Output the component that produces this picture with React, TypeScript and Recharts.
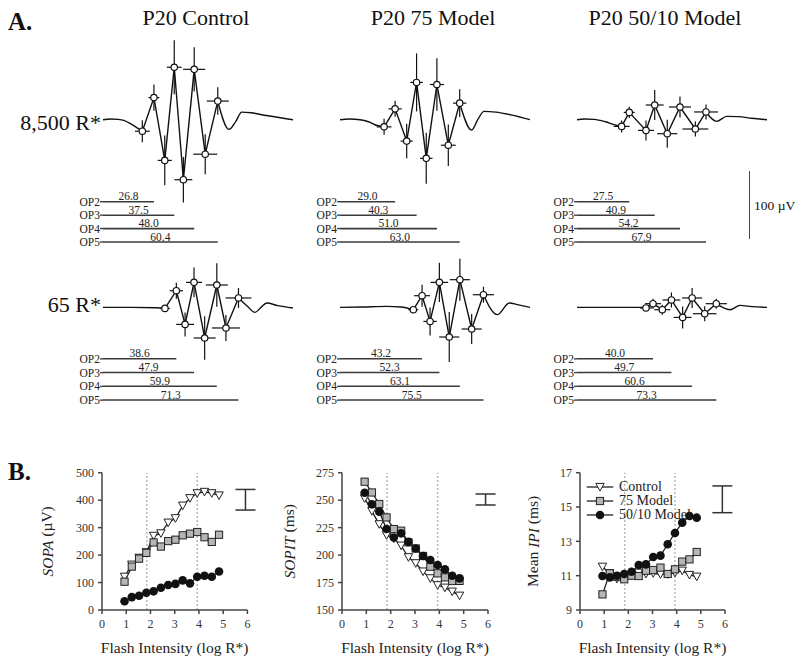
import React from "react";
import {
    ComposedChart,
    BarChart,
    Bar,
    Line,
    Scatter,
    XAxis,
    YAxis,
    ErrorBar,
    LabelList,
    ReferenceLine,
    Legend,
} from "recharts";

const FONT = "Liberation Serif, Times New Roman, serif";

// ---------- panel A: oscillatory potentials (time in ms, amplitude in µV) ----------
const ctl8500Pre = [[0, 0], [4, 1], [8, 0.5], [11, -1], [14, -5], [17, -10], [20.7, -16.7]];
const ctl8500Ops = [
    { t: 20.7, v: -16.7, te: 3.9, ve: 16 },
    { t: 26.8, v: 32, te: 2.9, ve: 19 },
    { t: 32.5, v: -59, te: 3.7, ve: 36 },
    { t: 37.5, v: 76, te: 3.9, ve: 39 },
    { t: 42.3, v: -87, te: 4.7, ve: 33 },
    { t: 48.0, v: 73, te: 5.8, ve: 32 },
    { t: 53.8, v: -50, te: 6.3, ve: 29 },
    { t: 60.4, v: 27, te: 5.8, ve: 20 },
];
const ctl8500Post = [[60.4, 27], [66.3, -14], [70, -2], [73, 11], [78, 10], [86, 6], [100, 0]];

const m75x8500Pre = [[0, 0], [5, 1], [10.5, 0], [15, -3], [19, -8], [23.2, -10.4]];
const m75x8500Ops = [
    { t: 23.2, v: -10.4, te: 3.9, ve: 11.6 },
    { t: 29.0, v: 15.7, te: 3.5, ve: 11.6 },
    { t: 35.1, v: -31, te: 3.2, ve: 25 },
    { t: 40.3, v: 54, te: 3.3, ve: 42 },
    { t: 45.4, v: -56, te: 3.3, ve: 37 },
    { t: 51.0, v: 51, te: 3.7, ve: 38 },
    { t: 57.0, v: -37, te: 3.9, ve: 30 },
    { t: 63.0, v: 24, te: 3.5, ve: 20 },
];
const m75x8500Post = [[63, 24], [69.3, -15], [72.5, 0], [75.8, 12], [82, 11], [90, 7], [100, 0]];

const m5010x8500Pre = [[0, 0], [4, 1], [9, 0.5], [15, -3], [20, -7.5], [23.5, -9.7]];
const m5010x8500Ops = [
    { t: 23.5, v: -9.7, te: 4.2, ve: 8.7 },
    { t: 27.5, v: 10.6, te: 2.9, ve: 8.3 },
    { t: 36.3, v: -15.5, te: 4.2, ve: 14.5 },
    { t: 40.9, v: 21.3, te: 4.7, ve: 21.7 },
    { t: 47.5, v: -20.3, te: 5.3, ve: 20.3 },
    { t: 54.2, v: 18.4, te: 5.8, ve: 15.2 },
    { t: 62.3, v: -13.5, te: 6.8, ve: 10.9 },
    { t: 67.9, v: 11.2, te: 6.3, ve: 10.9 },
];
const m5010x8500Post = [[67.9, 11.2], [73.5, -2.5], [78.8, 4.8], [85, 4.5], [92, 2], [100, 0]];

const ctl65Pre = [[0, 0.5], [15, 0.5], [28, 0], [32.6, -1]];
const ctl65Ops = [
    { t: 32.6, v: -1, te: 2.6, ve: 4.3 },
    { t: 38.6, v: 24.6, te: 3.5, ve: 11.6 },
    { t: 43.2, v: -24.2, te: 4.7, ve: 17.4 },
    { t: 47.9, v: 36.7, te: 4.2, ve: 21.7 },
    { t: 53.5, v: -43.9, te: 5.8, ve: 31.4 },
    { t: 59.9, v: 32.9, te: 5.8, ve: 31.4 },
    { t: 64.7, v: -29.4, te: 7.4, ve: 18.8 },
    { t: 71.3, v: 14.1, te: 6.8, ve: 14.5 },
];
const ctl65Post = [[71.3, 14.1], [76, 2], [80, -6.8], [83, 0], [86.2, 6.8], [92, 3], [100, -0.4]];

const m75x65Pre = [[0, 0.4], [12, 1], [24.6, 1.9], [32, 1], [38.6, -2.9]];
const m75x65Ops = [
    { t: 38.6, v: -2.9, te: 2.6, ve: 2.9 },
    { t: 43.2, v: 17.4, te: 4.2, ve: 15.9 },
    { t: 47.4, v: -19.9, te: 3.5, ve: 20.3 },
    { t: 52.3, v: 36.7, te: 4.6, ve: 28.3 },
    { t: 57.5, v: -42.5, te: 5.3, ve: 36.2 },
    { t: 63.1, v: 40.6, te: 5.3, ve: 30.4 },
    { t: 69.3, v: -30.9, te: 5.3, ve: 21.7 },
    { t: 75.5, v: 18.8, te: 5.6, ve: 11.6 },
];
const m75x65Post = [[75.5, 18.8], [82.8, -10.1], [89.1, 6.8], [94, 4], [100, 0.4]];

const m5010x65Pre = [[0, 0.4], [20, 0.4], [34.7, 0.4], [36.3, -0.4]];
const m5010x65Ops = [
    { t: 36.3, v: -0.4, te: 3.2, ve: 2.9 },
    { t: 40.0, v: 5.8, te: 4.2, ve: 7.2 },
    { t: 44.9, v: -2.9, te: 4.2, ve: 7.2 },
    { t: 49.7, v: 11.2, te: 4.7, ve: 10.9 },
    { t: 55.6, v: -14.1, te: 4.7, ve: 15.9 },
    { t: 60.6, v: 14.1, te: 5.3, ve: 14.5 },
    { t: 67.2, v: -8.7, te: 6.2, ve: 10.9 },
    { t: 73.3, v: 5.8, te: 5.6, ve: 7.2 },
];
const m5010x65Post = [[73.3, 5.8], [80.5, -2.9], [85.8, 3.3], [92, 1.5], [100, 0.4]];

// OP2..OP5 implicit times (ms)
const opNames = ["OP2", "OP3", "OP4", "OP5"];
const lat_ctl8500 = [26.8, 37.5, 48.0, 60.4];
const lat_m75x8500 = [29.0, 40.3, 51.0, 63.0];
const lat_m5010x8500 = [27.5, 40.9, 54.2, 67.9];
const lat_ctl65 = [38.6, 47.9, 59.9, 71.3];
const lat_m75x65 = [43.2, 52.3, 63.1, 75.5];
const lat_m5010x65 = [40.0, 49.7, 60.6, 73.3];

const colTitles = ["P20 Control", "P20 75 Model", "P20 50/10 Model"];
const rowLabels = ["8,500 R*", "65 R*"];

// ---------- panel B: intensity series ----------
const intensity = [0.93, 1.23, 1.53, 1.83, 2.13, 2.43, 2.73, 3.03, 3.33, 3.63, 3.93, 4.23, 4.53, 4.83];
const sopaControl = [121, 165, 190, 210, 270, 279, 318, 334, 380, 407, 425, 430, 425, 417];
const sopa75 = [103, 158, 187, 208, 246, 231, 251, 256, 272, 278, 284, 265, 248, 274];
const sopa5010 = [32, 47, 52, 63, 68, 81, 91, 95, 108, 97, 121, 125, 121, 140];
const sopitControl = [251.6, 240, 228, 218, 215, 208.6, 198, 192.5, 185, 178.8, 172.5, 170.3, 166.7, 163];
const sopit75 = [266.8, 257, 246.5, 234.3, 223.7, 222.2, 211.6, 206, 199.2, 189.4, 183.4, 179.7, 176.4, 176.5];
const sopit5010 = [256.8, 246.2, 239.5, 223.7, 216, 219.8, 212, 206, 199.2, 195.5, 191, 187, 181.2, 178.8];
const ipiControl = [11.52, 11.14, 10.81, 10.94, 11.0, 11.17, 11.1, 11.14, 11.08, 11.08, 11.17, 11.29, 11.04, 10.94];
const ipi75 = [9.91, 11.14, 10.94, 10.79, 11.0, 10.98, 11.29, 11.33, 11.47, 11.1, 11.37, 11.82, 11.95, 12.38];
const ipi5010 = [10.98, 10.9, 11.0, 11.1, 11.23, 11.62, 11.66, 12.09, 12.17, 12.83, 13.49, 14.09, 14.48, 14.38];
const sopaErr = [{ x: 5.92, y: 401.5, e: 37.5 }];
const sopitErr = [{ x: 5.9, y: 250.6, e: 5 }];
const ipiErr = [{ x: 5.89, y: 15.45, e: 0.78 }];
const markLines = [1.85, 3.93];
const seriesNames = ["Control", "75 Model", "50/10 Model"];

const toPts = (a: number[][]) => a.map(([t, v]) => ({ t, v }));

const Txt = ({ x, y, size, anchor = "start", bold = false, children }: any) => {
    const shift = anchor === "middle" ? "-50%" : anchor === "end" ? "-100%" : "0";
    return (
        <div
            style={{
                position: "absolute",
                left: x,
                top: y - size / 2,
                fontSize: size,
                lineHeight: `${size}px`,
                fontWeight: bold ? "bold" : "normal",
                whiteSpace: "nowrap",
                transform: `translateX(${shift})`,
                color: "#111",
            }}
        >
            {children}
        </div>
    );
};

const OpDot = (p: any) => (
    <circle cx={p.cx} cy={p.cy} r={3.2} fill="#fff" stroke="#111" strokeWidth={1.2} />
);

const Wave = ({ left, top, pre, ops, post }: any) => (
    <div style={{ position: "absolute", left, top }}>
        <ComposedChart width={190} height={179.4} margin={{ top: 0, right: 0, bottom: 0, left: 0 }}>
            <XAxis type="number" dataKey="t" domain={[0, 100]} hide />
            <YAxis type="number" domain={[-130, 130]} hide />
            <Line data={toPts(pre)} dataKey="v" type="monotone" dot={false} stroke="#111" strokeWidth={1.4} isAnimationActive={false} />
            <Line data={toPts(post)} dataKey="v" type="monotone" dot={false} stroke="#111" strokeWidth={1.4} isAnimationActive={false} />
            <Line data={ops} dataKey="v" type="linear" dot={false} stroke="#111" strokeWidth={1.4} isAnimationActive={false} />
            <Scatter data={ops} dataKey="v" shape={OpDot} isAnimationActive={false}>
                <ErrorBar dataKey="te" direction="x" width={0} stroke="#111" strokeWidth={1.2} />
                <ErrorBar dataKey="ve" direction="y" width={0} stroke="#111" strokeWidth={1.2} />
            </Scatter>
        </ComposedChart>
    </div>
);

const LatLabel = (p: any) => (
    <text x={p.x + p.width / 2} y={p.y - 0.6} textAnchor="middle" fontSize={11.5} fontFamily={FONT} fill="#222">
        {Number(p.value).toFixed(1)}
    </text>
);

const LAT_PAD = 12;

const Latency = ({ left, top, height, lats }: any) => {
    const rows = opNames.map((op, i) => ({ op, lat: lats[i] }));
    return (
        <div style={{ position: "absolute", left: left - 30, top: top - LAT_PAD }}>
            <BarChart width={220} height={height + LAT_PAD} data={rows} layout="vertical" margin={{ top: LAT_PAD, right: 0, bottom: 0, left: 0 }}>
                <XAxis type="number" domain={[0, 100]} hide />
                <YAxis
                    type="category"
                    dataKey="op"
                    width={30}
                    axisLine={false}
                    tickSize={3}
                    tickMargin={0}
                    tickLine={{ stroke: "#444", strokeWidth: 1.4 }}
                    tick={{ fontSize: 11.5, fontFamily: FONT, fill: "#222" }}
                    interval={0}
                />
                <Bar dataKey="lat" fill="#3a3a3a" barSize={1.6} isAnimationActive={false}>
                    <LabelList dataKey="lat" content={LatLabel} />
                </Bar>
            </BarChart>
        </div>
    );
};

const Marker = ({ kind, cx, cy }: any) => {
    if (kind === 0)
        return <path d={`M${cx - 4.2},${cy - 3.6}L${cx + 4.2},${cy - 3.6}L${cx},${cy + 4}Z`} fill="#fff" stroke="#222" strokeWidth={1} />;
    if (kind === 1)
        return <rect x={cx - 3.6} y={cy - 3.6} width={7.2} height={7.2} fill="#b5b5b5" stroke="#222" strokeWidth={1} />;
    return <circle cx={cx} cy={cy} r={4.3} fill="#111" />;
};

const LegendBox = ({ payload }: any) => {
    const items = (payload || [])
        .filter((e: any) => seriesNames.includes(e.value))
        .sort((a: any, b: any) => seriesNames.indexOf(a.value) - seriesNames.indexOf(b.value));
    return (
        <div style={{ fontFamily: FONT }}>
            {items.map((e: any) => {
                const k = seriesNames.indexOf(e.value);
                return (
                    <div key={e.value} style={{ display: "flex", alignItems: "center", height: 14.3 }}>
                        <svg width={30} height={12}>
                            <line x1={0.7} x2={27.3} y1={6} y2={6} stroke="#222" strokeWidth={1.3} />
                            <Marker kind={k} cx={14} cy={6} />
                        </svg>
                        <span style={{ fontSize: 14, marginLeft: 3, color: "#222", lineHeight: "14px" }}>{e.value}</span>
                    </div>
                );
            })}
        </div>
    );
};

const axisStyle = { stroke: "#444", strokeWidth: 1.5 };
const tickStyle = { fontSize: 12, fontFamily: FONT, fill: "#333" };

const Trend = ({ left, plotW, domain, ticks, a, b, c, err, yLabel, labelOff, legend }: any) => {
    const rows = intensity.map((x, i) => ({ x, control: a[i], m75: b[i], m5010: c[i] }));
    const keys = ["control", "m75", "m5010"];
    const XLab = ({ viewBox }: any) => (
        <text x={viewBox.x + viewBox.width / 2} y={viewBox.y + 43} textAnchor="middle" fontSize={15.5} fontFamily={FONT} fill="#222">
            Flash Intensity (log R*)
        </text>
    );
    const YLab = ({ viewBox }: any) => {
        const cx = viewBox.x + viewBox.width - labelOff;
        const cy = viewBox.y + viewBox.height / 2;
        return (
            <text x={cx} y={cy} transform={`rotate(-90 ${cx} ${cy})`} textAnchor="middle" dominantBaseline="central" fontSize={15.5} fontFamily={FONT} fill="#222">
                {yLabel.pre}
                <tspan fontStyle="italic">{yLabel.it}</tspan>
                {yLabel.post}
            </text>
        );
    };
    return (
        <div style={{ position: "absolute", left: left - 72, top: 460 }}>
            <ComposedChart width={230} height={200} data={rows} margin={{ top: 12.7, right: 230 - 72 - plotW, bottom: 0, left: 0 }}>
                <XAxis
                    type="number"
                    dataKey="x"
                    domain={[0, 6]}
                    ticks={[0, 1, 2, 3, 4, 5, 6]}
                    interval={0}
                    height={50}
                    tickSize={4}
                    tickMargin={5}
                    axisLine={axisStyle}
                    tickLine={axisStyle}
                    tick={tickStyle}
                    label={{ content: XLab }}
                />
                <YAxis
                    type="number"
                    domain={domain}
                    ticks={ticks}
                    interval={0}
                    width={72}
                    tickSize={4}
                    tickMargin={4}
                    axisLine={axisStyle}
                    tickLine={axisStyle}
                    tick={tickStyle}
                    label={{ content: YLab }}
                />
                {markLines.map((m) => (
                    <ReferenceLine key={m} x={m} stroke="#b8b8b8" strokeWidth={1.5} strokeDasharray="2 2" />
                ))}
                {keys.map((k, i) => (
                    <Line
                        key={k}
                        dataKey={k}
                        name={seriesNames[i]}
                        type="linear"
                        stroke="#222"
                        strokeWidth={1.3}
                        isAnimationActive={false}
                        dot={(p: any) => <Marker key={`${k}-${p.index}`} kind={i} cx={p.cx} cy={p.cy} />}
                    />
                ))}
                <Scatter data={err} dataKey="y" name="err" legendType="none" shape={() => <g />} isAnimationActive={false}>
                    <ErrorBar dataKey="e" direction="y" width={10} stroke="#333" strokeWidth={1.5} />
                </Scatter>
                {legend && (
                    <Legend
                        layout="vertical"
                        align="center"
                        verticalAlign="middle"
                        content={LegendBox}
                        wrapperStyle={{ left: 78, top: 19.5, width: "auto" }}
                    />
                )}
            </ComposedChart>
        </div>
    );
};

const App: React.FC = () => {
    const colX = [103, 340, 577];
    const waves = [
        [ctl8500Pre, ctl8500Ops, ctl8500Post, lat_ctl8500],
        [m75x8500Pre, m75x8500Ops, m75x8500Post, lat_m75x8500],
        [m5010x8500Pre, m5010x8500Ops, m5010x8500Post, lat_m5010x8500],
        [ctl65Pre, ctl65Ops, ctl65Post, lat_ctl65],
        [m75x65Pre, m75x65Ops, m75x65Post, lat_m75x65],
        [m5010x65Pre, m5010x65Ops, m5010x65Post, lat_m5010x65],
    ];
    const waveTop = [29.8, 218.3];
    const latTop = [195.3, 351.8];
    const latH = [53.7, 55];
    return (
        <div style={{ position: "absolute", left: 0, top: 0, width: 800, height: 663, background: "#fff", fontFamily: FONT, overflow: "hidden" }}>
            <Txt x={8} y={21} size={25} bold>A.</Txt>
            <Txt x={8} y={471} size={25} bold>B.</Txt>
            {colTitles.map((t, i) => (
                <Txt key={t} x={[196, 433, 665][i]} y={18} size={22} anchor="middle">{t}</Txt>
            ))}
            <Txt x={101} y={123} size={22} anchor="end">{rowLabels[0]}</Txt>
            <Txt x={101} y={305} size={22} anchor="end">{rowLabels[1]}</Txt>
            {waves.map((w, i) => {
                const r = Math.floor(i / 3);
                const c = i % 3;
                return (
                    <React.Fragment key={i}>
                        <Latency left={colX[c]} top={latTop[r]} height={latH[r]} lats={w[3]} />
                        <Wave left={colX[c]} top={waveTop[r]} pre={w[0]} ops={w[1]} post={w[2]} />
                    </React.Fragment>
                );
            })}
            <div style={{ position: "absolute", left: 748.5, top: 170.7, width: 0, height: 68.6, borderLeft: "1.6px solid #444" }} />
            <Txt x={754} y={206} size={13.5}>100 µV</Txt>

            <Trend left={102.3} plotW={145.4} domain={[0, 500]} ticks={[0, 100, 200, 300, 400, 500]}
                a={sopaControl} b={sopa75} c={sopa5010} err={sopaErr}
                yLabel={{ pre: "", it: "SOPA", post: " (µV)" }} labelOff={55} />
            <Trend left={341.7} plotW={146} domain={[150, 275]} ticks={[150, 175, 200, 225, 250, 275]}
                a={sopitControl} b={sopit75} c={sopit5010} err={sopitErr}
                yLabel={{ pre: "", it: "SOPIT", post: " (ms)" }} labelOff={53} />
            <Trend left={580} plotW={145} domain={[9, 17]} ticks={[9, 11, 13, 15, 17]}
                a={ipiControl} b={ipi75} c={ipi5010} err={ipiErr}
                yLabel={{ pre: "Mean ", it: "IPI", post: " (ms)" }} labelOff={47} legend />
        </div>
    );
};

export default App;
